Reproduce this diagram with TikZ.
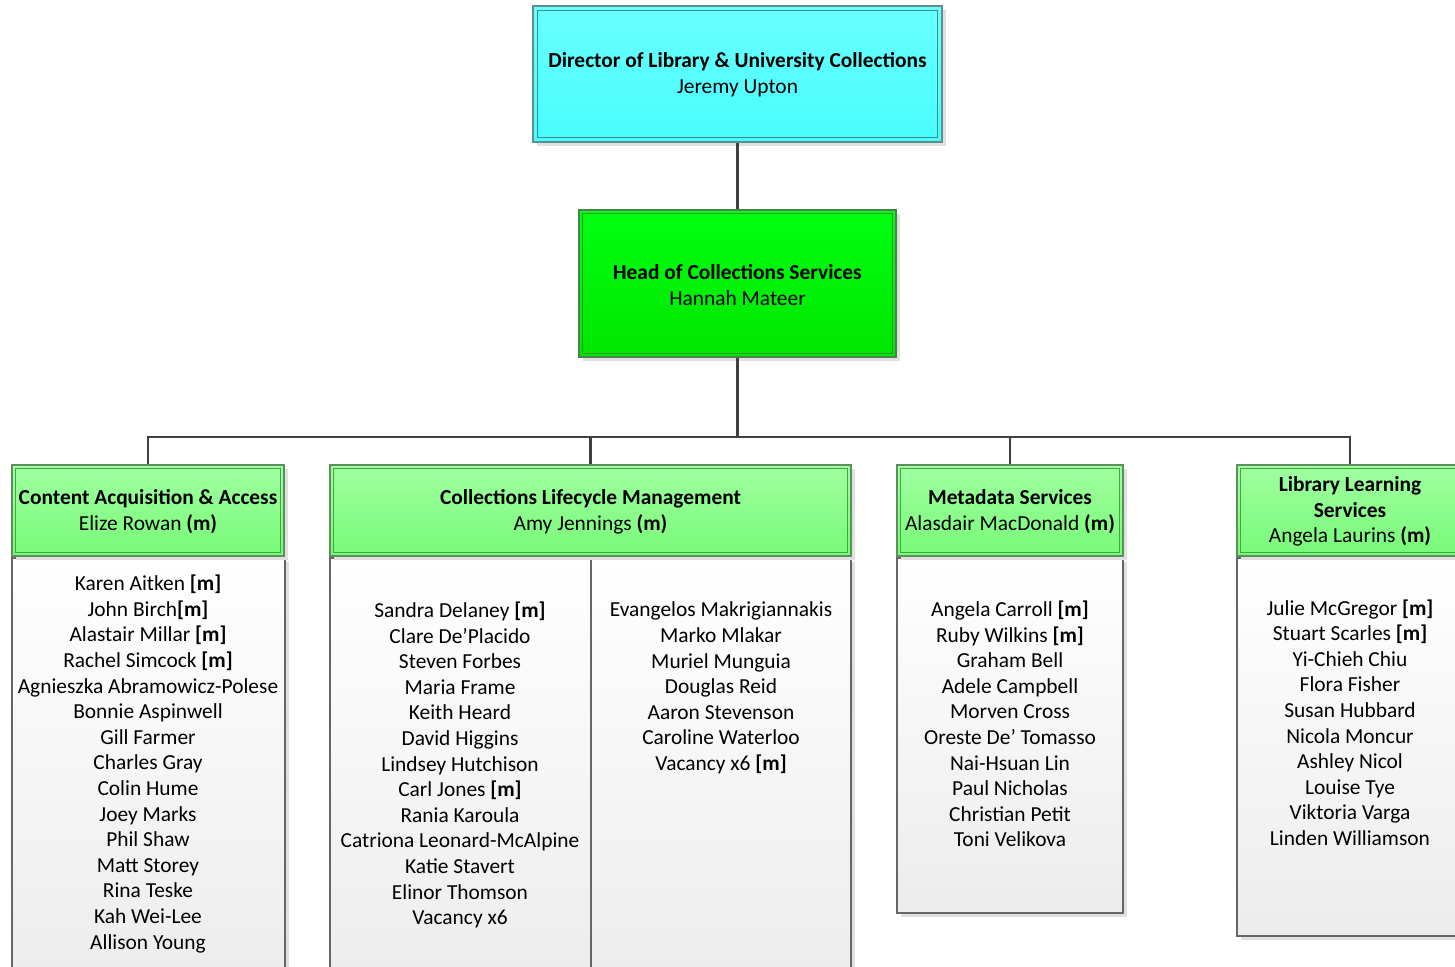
\documentclass[tikz,border=0pt]{standalone}
\usepackage{fontspec}
\setmainfont{Carlito}
\usetikzlibrary{shadows,fit}
\definecolor{connc}{HTML}{404040}
\definecolor{cyanTop}{HTML}{6AFFFF}
\definecolor{cyanBot}{HTML}{48FDFD}
\definecolor{cyanOut}{HTML}{5E8E8E}
\definecolor{cyanIn}{HTML}{3A8F8F}
\definecolor{grTop}{HTML}{00FF10}
\definecolor{grBot}{HTML}{00E600}
\definecolor{grOut}{HTML}{4F7F4F}
\definecolor{grIn}{HTML}{1E9A1E}
\definecolor{ltTop}{HTML}{A0FFA0}
\definecolor{ltBot}{HTML}{78FA78}
\definecolor{ltOut}{HTML}{5E8E5E}
\definecolor{ltIn}{HTML}{3DA83D}
\definecolor{lsTop}{HTML}{FFFFFF}
\definecolor{lsBot}{HTML}{ECECEC}
\definecolor{lsOut}{HTML}{666666}
\tikzset{
  conn/.style={draw=connc, line width=1.1pt},
  shad/.style={drop shadow={shadow xshift=2pt, shadow yshift=-2pt, fill=black!12, opacity=1}},
  boxbase/.style={rectangle, inner sep=0pt, line width=0.7pt, shad},
  topbox/.style={boxbase, draw=cyanOut, shading=axis, top color=cyanTop, bottom color=cyanBot},
  headbox/.style={boxbase, draw=grOut, shading=axis, top color=grTop, bottom color=grBot},
  deptbox/.style={boxbase, draw=ltOut, shading=axis, top color=ltTop, bottom color=ltBot},
  listbox/.style={boxbase, draw=lsOut, shading=axis, top color=lsTop, bottom color=lsBot},
  innerln/.style={draw=#1, line width=0.6pt},
  ttl/.style={align=center, inner sep=0pt, font=\fontsize{10.7}{12.9}\selectfont},
  lst/.style={align=center, inner sep=0pt, anchor=center, font=\fontsize{10.7}{12.8}\selectfont},
}
\begin{document}
\begin{tikzpicture}[x=0.5pt,y=-0.5pt]
\useasboundingbox (0,0) rectangle (1455,967);
% list boxes
\node[listbox, fit={(12,558)(285,990)}] (l1) {};
\node[listbox, fit={(330,558)(591,990)}] (l2a) {};
\node[listbox, fit={(591,558)(851,990)}] (l2b) {};
\node[listbox, fit={(897,558)(1123,913)}] (l3) {};
\node[listbox, fit={(1237,558)(1463,936)}] (l4) {};
% top
\node[topbox, fit={(533,6)(942,142)}] (top) {};
\draw[innerln=cyanIn] ([xshift=2.5pt,yshift=-2.5pt]top.north west) rectangle ([xshift=-2.5pt,yshift=2.5pt]top.south east);
\node[ttl] (topt) at (737.5,75) {\textbf{Director of Library \& University Collections}\\Jeremy Upton};
% head
\node[headbox, fit={(579,210)(896,357)}] (head) {};
\draw[innerln=grIn] ([xshift=2pt,yshift=-2pt]head.north west) rectangle ([xshift=-2pt,yshift=2pt]head.south east);
\node[ttl] (headt) at (737.5,285) {\textbf{Head of Collections Services}\\Hannah Mateer};
% departments
\node[deptbox, fit={(12,465)(284,556)}] (caa) {};
\node[deptbox, fit={(330,465)(851,556)}] (clm) {};
\node[deptbox, fit={(897,465)(1123,556)}] (ms) {};
\node[deptbox, fit={(1237,465)(1463,556)}] (lls) {};
\foreach \n in {caa,clm,ms,lls}{
  \draw[innerln=ltIn] ([xshift=2pt,yshift=-2pt]\n.north west) rectangle ([xshift=-2pt,yshift=2pt]\n.south east);
}
\node[ttl] (caat) at (148,511.5) {\textbf{Content Acquisition \& Access}\\Elize Rowan \textbf{(m)}};
\node[ttl] (clmt) at (590.5,511.5) {\textbf{Collections Lifecycle Management}\\Amy Jennings \textbf{(m)}};
\node[ttl] (mst) at (1010,511.5) {\textbf{Metadata Services}\\Alasdair MacDonald \textbf{(m)}};
\node[ttl] (llst) at (1350,511.5) {\textbf{Library Learning}\\\textbf{Services}\\Angela Laurins \textbf{(m)}};
% connectors
\coordinate (j) at (737.5,437);
\draw[conn] (top.south) -- (head.north);
\draw[conn] (head.south) -- (j);
\draw[conn] (j) -| (caa.north);
\draw[conn] (j) -| (clm.north);
\draw[conn] (j) -| (ms.north);
\draw[conn] (j) -| (lls.north);
% lists
\node[lst] (l1t) at (148,764) {Karen Aitken \textbf{[m]}\\John Birch\textbf{[m]}\\Alastair Millar \textbf{[m]}\\Rachel Simcock \textbf{[m]}\\Agnieszka Abramowicz-Polese\\Bonnie Aspinwell\\Gill Farmer\\Charles Gray\\Colin Hume\\Joey Marks\\Phil Shaw\\Matt Storey\\Rina Teske\\Kah Wei-Lee\\Allison Young};
\node[lst] (l2at) at (460,765) {Sandra Delaney \textbf{[m]}\\Clare De’Placido\\Steven Forbes\\Maria Frame\\Keith Heard\\David Higgins\\Lindsey Hutchison\\Carl Jones \textbf{[m]}\\Rania Karoula\\Catriona Leonard-McAlpine\\Katie Stavert\\Elinor Thomson\\Vacancy x6};
\node[lst] (l2bt) at (721,688) {Evangelos Makrigiannakis\\Marko Mlakar\\Muriel Munguia\\Douglas Reid\\Aaron Stevenson\\Caroline Waterloo\\Vacancy x6 \textbf{[m]}};
\node[lst] (l3t) at (1010,724) {Angela Carroll \textbf{[m]}\\Ruby Wilkins \textbf{[m]}\\Graham Bell\\Adele Campbell\\Morven Cross\\Oreste De’ Tomasso\\Nai-Hsuan Lin\\Paul Nicholas\\Christian Petit\\Toni Velikova};
\node[lst] (l4t) at (1350,722.5) {Julie McGregor \textbf{[m]}\\Stuart Scarles \textbf{[m]}\\Yi-Chieh Chiu\\Flora Fisher\\Susan Hubbard\\Nicola Moncur\\Ashley Nicol\\Louise Tye\\Viktoria Varga\\Linden Williamson};
\end{tikzpicture}
\end{document}
